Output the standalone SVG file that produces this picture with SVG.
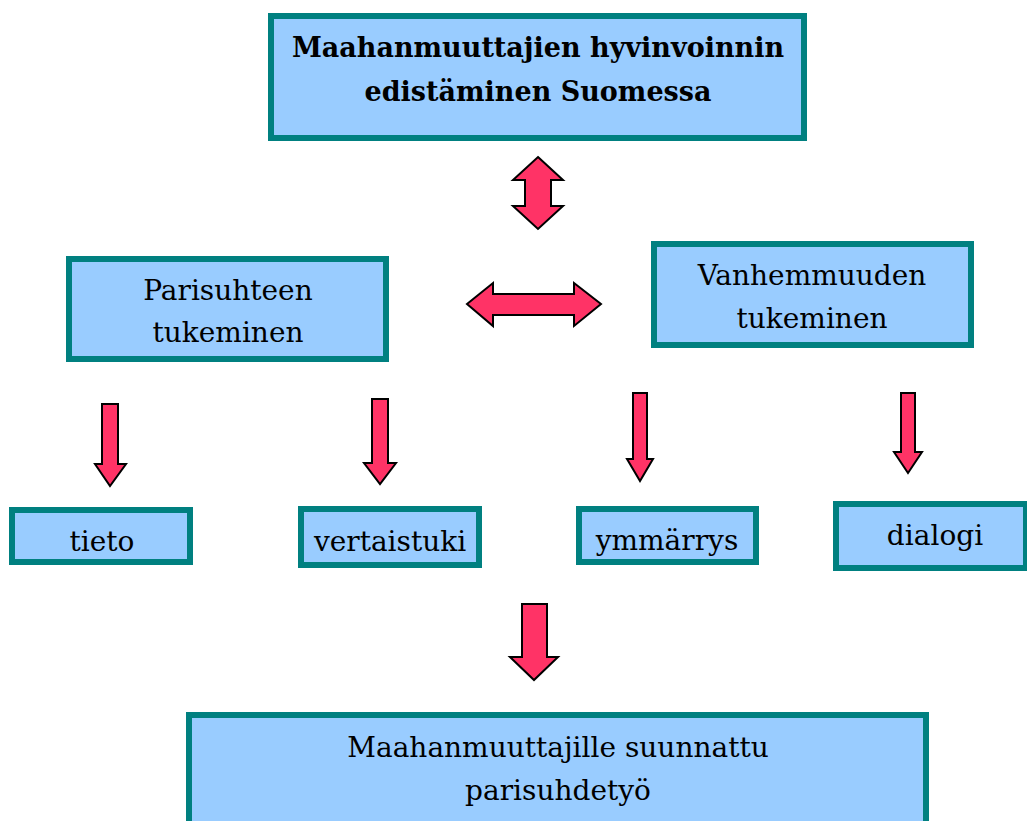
<svg xmlns="http://www.w3.org/2000/svg" width="1027" height="821" viewBox="0 0 1027 821">
<style>
.box{fill:#99CCFF;stroke:#008080;stroke-width:6}
.arr{fill:#FF3366;stroke:#000;stroke-width:2;stroke-linejoin:miter}
.t{font-family:"DejaVu Serif","Liberation Serif",serif;font-size:28px;fill:#000;text-anchor:middle}
.b{font-weight:bold;font-size:27px}
</style>
<rect width="1027" height="821" fill="#fff"/>
<g id="connectors">
<path class="arr" d="M538,157 L563,180 L551,180 L551,206 L563,206 L538,229 L513,206 L525,206 L525,180 L513,180 Z"/>
<path class="arr" d="M467,304 L493,283 L493,294 L574,294 L574,283 L601,304 L574,326 L574,315 L493,315 L493,326 Z"/>
<path class="arr" d="M102,404 L118,404 L118,464 L126,464 L110,486 L95,464 L102,464 Z"/>
<path class="arr" d="M372,399 L388,399 L388,463 L396,463 L380,484 L364,463 L372,463 Z"/>
<path class="arr" d="M633,393 L647,393 L647,459 L653,459 L640,481 L627,459 L633,459 Z"/>
<path class="arr" d="M901,393 L915,393 L915,452 L922,452 L908,473 L894,452 L901,452 Z"/>
<path class="arr" d="M522,604 L547,604 L547,657 L558,657 L534,680 L510,657 L522,657 Z"/>
</g>
<g id="top">
<rect class="box" x="271" y="16" width="533" height="122"/>
<text class="t b" x="538" y="57">Maahanmuuttajien hyvinvoinnin</text>
<text class="t b" x="538" y="101">edistäminen Suomessa</text>
</g>
<g id="parisuhde">
<rect class="box" x="69" y="259" width="317" height="100"/>
<text class="t" x="228" y="300">Parisuhteen</text>
<text class="t" x="228" y="342">tukeminen</text>
</g>
<g id="vanhemmuus">
<rect class="box" x="654" y="244" width="317" height="101"/>
<text class="t" x="812" y="285">Vanhemmuuden</text>
<text class="t" x="812" y="328">tukeminen</text>
</g>
<g id="tieto">
<rect class="box" x="12" y="510" width="178" height="52"/>
<text class="t" x="102" y="551">tieto</text>
</g>
<g id="vertaistuki">
<rect class="box" x="301" y="509" width="178" height="56"/>
<text class="t" x="390" y="551">vertaistuki</text>
</g>
<g id="ymmarrys">
<rect class="box" x="579" y="509" width="177" height="53"/>
<text class="t" x="667" y="550">ymmärrys</text>
</g>
<g id="dialogi">
<rect class="box" x="836" y="504" width="190" height="64"/>
<text class="t" x="935" y="545">dialogi</text>
</g>
<g id="bottom">
<rect class="box" x="189" y="715" width="737" height="120"/>
<text class="t" x="558" y="757">Maahanmuuttajille suunnattu</text>
<text class="t" x="558" y="800">parisuhdetyö</text>
</g>
</svg>
